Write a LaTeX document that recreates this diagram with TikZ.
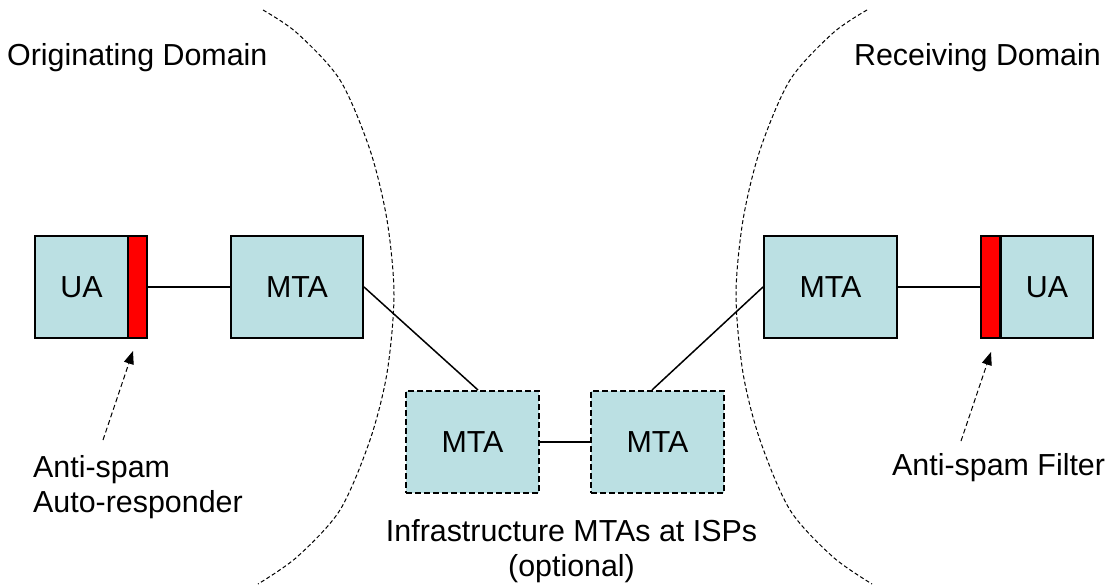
\documentclass[tikz,border=0pt]{standalone}
\usepackage{fontspec}
\setmainfont{Liberation Sans}
\usetikzlibrary{arrows.meta}
\definecolor{boxfill}{HTML}{BBE0E3}
\tikzset{
  lbl/.style={inner sep=0pt, font=\fontsize{30.4}{35}\selectfont},
  box/.style={draw=black, line width=2pt, fill=boxfill, minimum height=102pt, inner sep=0pt, font=\fontsize{30.4}{35}\selectfont},
  dbox/.style={box, dash pattern=on 6pt off 3pt},
  redbar/.style={draw=black, line width=2pt, fill=red, minimum height=102pt, minimum width=19pt, inner sep=0pt},
  link/.style={line width=1.5pt},
  boundary/.style={line width=1pt, dash pattern=on 4pt off 2.5pt},
  pointer/.style={line width=1pt, dash pattern=on 5pt off 3pt, -{Triangle[length=13pt,width=10pt]}}
}
\begin{document}
\begin{tikzpicture}[x=1pt,y=-1pt]
\useasboundingbox (0,0) rectangle (1110,586);
% domain boundaries
\draw[boundary] plot[smooth] coordinates {(263,10) (297,33) (340,80) (370,150) (387,220) (394,295) (387,373) (370,440) (340,510) (297,557) (258,584)};
\draw[boundary] plot[smooth] coordinates {(867,10) (833,33) (790,80) (760,150) (743,220) (736,295) (743,373) (760,440) (790,510) (833,557) (872,584)};
% nodes
\node[box, minimum width=93pt] (ua1) at (81.5,287) {UA};
\node[redbar] (r1) at (137.5,287) {};
\node[box, minimum width=132pt] (m1) at (297,287) {MTA};
\node[dbox, minimum width=133pt] (d1) at (472.5,442) {MTA};
\node[dbox, minimum width=133pt] (d2) at (657.5,442) {MTA};
\node[box, minimum width=133pt] (m2) at (830.5,287) {MTA};
\node[redbar] (r2) at (990.5,287) {};
\node[box, minimum width=92pt] (ua2) at (1047,287) {UA};
% connectors
\draw[link] (r1.east) -- (m1.west);
\draw[link] (m1.east) -- ([xshift=5.5pt]d1.north);
\draw[link] (d1.east) -- (d2.west);
\draw[link] ([xshift=-5.5pt]d2.north) -- (m2.west);
\draw[link] (m2.east) -- (r2.west);
% labels
\node[lbl, anchor=base west] (orig) at (7,66) {Originating Domain};
\node[lbl, anchor=base east] (recv) at (1101,66) {Receiving Domain};
\node[lbl, anchor=base west, align=left] (asar) at (33,512) {Anti-spam\\Auto-responder};
\node[lbl, anchor=base west] (asf) at (892,475) {Anti-spam Filter};
\node[lbl, anchor=base, align=center] (infra) at (571.5,576) {Infrastructure MTAs at ISPs\\(optional)};
% pointers
\coordinate (t1) at (103,440);
\coordinate (h1) at (133,351);
\coordinate (t2) at (961,441);
\coordinate (h2) at (991,352);
\draw[pointer] (t1) -- (h1);
\draw[pointer] (t2) -- (h2);
\end{tikzpicture}
\end{document}
